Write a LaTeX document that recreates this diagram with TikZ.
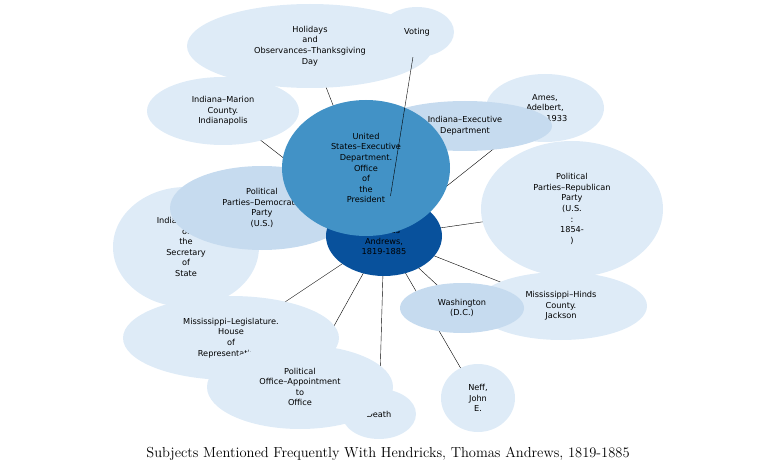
\documentclass[tikz,border=0pt]{standalone}
\usepackage{fontspec}
\setsansfont{DejaVu Sans}
\usetikzlibrary{shapes.geometric}
\definecolor{lt}{HTML}{DEEBF7}
\definecolor{md}{HTML}{C6DBEF}
\definecolor{dk}{HTML}{4292C6}
\definecolor{vd}{HTML}{08519C}
\tikzset{
  bub/.style={ellipse, inner sep=0pt, align=center, font=\sffamily\fontsize{8.2}{10.6}\selectfont, text=black},
}
\begin{document}
\begin{tikzpicture}[x=1pt,y=-1pt]
\useasboundingbox (0,0) rectangle (777,476);
\coordinate (c) at (384,236);
\foreach \p in {(310,46),(223,111),(545,108),(572,209),(561,306),(462,308),(478,398),(379,414),(300,387),(231,338)}
  \draw[black] (c) -- \p;
\newcommand{\bubble}[6]{\node[bub, fill=#5, minimum width=#3*2pt, minimum height=#4*2pt] (#6) at (#1,#2) {};}
\bubble{310}{46}{123}{42}{lt}{hol}
\node[bub] at (hol) {Holidays\\and\\Observances--Thanksgiving\\Day};
\bubble{417}{32}{37}{25}{lt}{vot}
\node[bub] at (vot) {Voting};
\bubble{223}{111}{76}{34}{lt}{mar}
\node[bub] at (mar) {Indiana--Marion\\County.\\Indianapolis};
\bubble{545}{108}{59}{34}{lt}{ame}
\node[bub] at (ame) {Ames,\\Adelbert,\\1835-1933};
\bubble{465}{126}{87}{25}{md}{iex}
\node[bub] at (iex) {Indiana--Executive\\Department};
\bubble{572}{209}{91}{68}{lt}{rep}
\node[bub] at (rep) {Political\\Parties--Republican\\Party\\(U.S.\\:\\1854-\\)};
\bubble{186}{247}{73}{60}{lt}{ios}
\node[bub] at (ios) {Indiana--Office\\of\\the\\Secretary\\of\\State};
\bubble{262}{208}{92}{42}{md}{dem}
\node[bub] at (dem) {Political\\Parties--Democratic\\Party\\(U.S.)};
\bubble{561}{306}{86}{34}{lt}{hin}
\node[bub] at (hin) {Mississippi--Hinds\\County.\\Jackson};
\bubble{462}{308}{62}{25}{md}{was}
\node[bub] at (was) {Washington\\(D.C.)};
\bubble{231}{338}{108}{42}{lt}{leg}
\node[bub] at (leg) {Mississippi--Legislature.\\House\\of\\Representatives};
\bubble{379}{414}{37}{25}{lt}{dea}
\node[bub] at (dea) {Death};
\bubble{300}{387}{93}{42}{lt}{pol}
\node[bub] at (pol) {Political\\Office--Appointment\\to\\Office};
\bubble{478}{398}{37}{34}{lt}{nef}
\node[bub] at (nef) {Neff,\\John\\E.};
\bubble{384}{236}{58}{40}{vd}{cen}
\node[bub] at (cen) {Hendricks,\\Thomas\\Andrews,\\1819-1885};
\bubble{366}{168}{84}{68}{dk}{use}
\node[bub] at (use) {United\\States--Executive\\Department.\\Office\\of\\the\\President};
\draw[black] (cen) -- (vot);
\node[font=\fontsize{14.5}{17}\selectfont] (title) at (388,454) {Subjects Mentioned Frequently With Hendricks, Thomas Andrews, 1819-1885};
\end{tikzpicture}
\end{document}
